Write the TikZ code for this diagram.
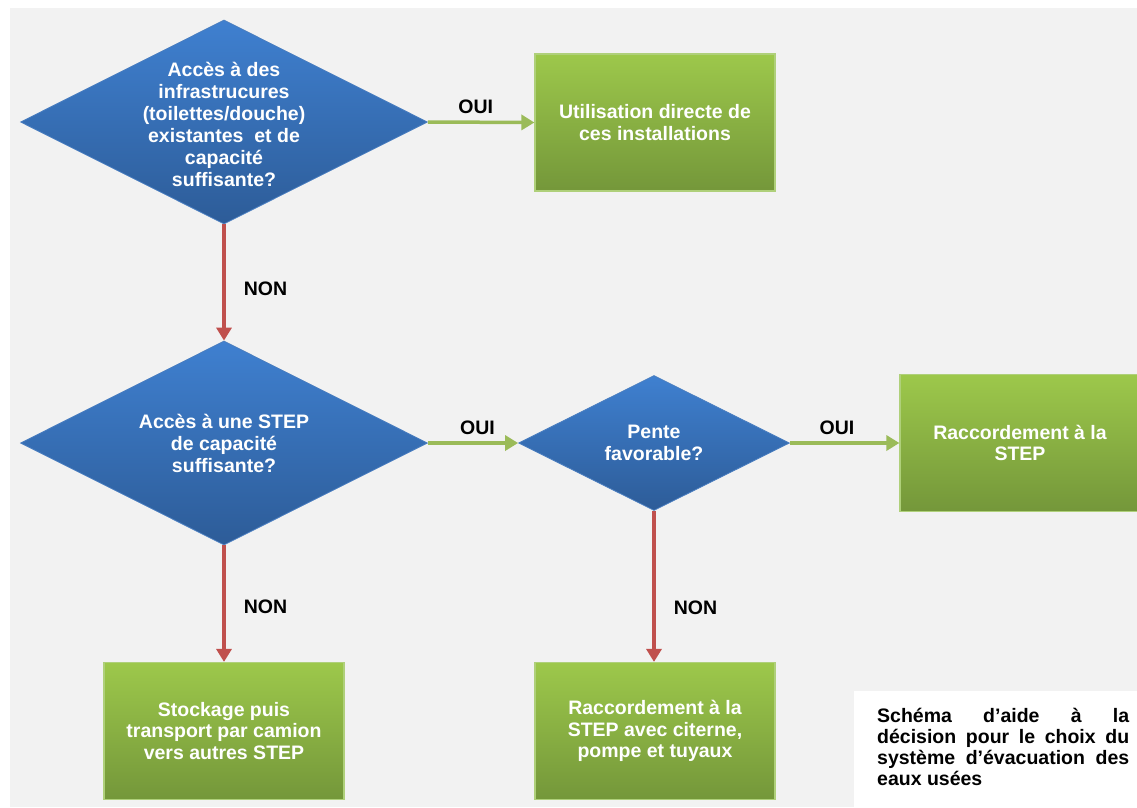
\documentclass[tikz,border=0pt]{standalone}
\usepackage{fontspec}
\setmainfont{Liberation Sans}
\usepackage{tikz}
\usetikzlibrary{calc}
\usetikzlibrary{shapes.geometric}
\usetikzlibrary{arrows.meta}

\definecolor{bgGrey}{HTML}{F2F2F2}
\definecolor{qTop}{HTML}{3F80D0}
\definecolor{qBot}{HTML}{2D5C98}
\definecolor{qEdge}{HTML}{4A7EC0}
\definecolor{aTop}{HTML}{9DC84B}
\definecolor{aBot}{HTML}{74973A}
\definecolor{aEdge}{HTML}{AFD07A}
\definecolor{ouiGreen}{HTML}{9BBB59}
\definecolor{nonRed}{HTML}{C0504D}

\begin{document}
\begin{tikzpicture}[x=1pt,y=-1pt,
        question/.style={diamond,draw=qEdge,line width=0.8pt,top color=qTop,bottom color=qBot,inner sep=0pt,minimum width=407pt,minimum height=204pt},
        qtext/.style={text=white,font=\fontsize{19.5}{22}\selectfont\bfseries,align=center,inner sep=0pt},
        action/.style={rectangle,draw=aEdge,line width=1.2pt,top color=aTop,bottom color=aBot,minimum width=240pt,minimum height=137pt,
            text=white,font=\fontsize{19.5}{21.5}\selectfont\bfseries,align=center},
        oui/.style={draw=ouiGreen,line width=3.5pt,-{Triangle[length=13pt,width=15pt]}},
        non/.style={draw=nonRed,line width=3.5pt,-{Triangle[length=13pt,width=15pt]}},
        lbl/.style={font=\fontsize{19.5}{22}\selectfont\bfseries,inner sep=0pt}]
            \useasboundingbox (0,0) rectangle (1137,807);
            \fill [bgGrey] (10,8) rectangle (1137,807);

            % questions
            \node [question,label={[qtext,yshift=-2pt]center:{Accès à des\\infrastrucures\\(toilettes/douche)\\existantes \ et de\\capacité\\suffisante?}}] (Q1) at (224,122) {};
            \node [question,label={[qtext]center:{Accès à une STEP\\de capacité\\suffisante?}}] (Q2) at (224,443) {};
            \node [question,minimum width=271pt,minimum height=135pt,label={[qtext]center:{Pente\\favorable?}}] (Q3) at (654,443) {};

            % answers
            \node [action] (A1) at (655,122.5) {Utilisation directe de\\ces installations};
            \node [action] (A2) at (1020,443) {Raccordement à la\\STEP};
            \node [action] (B1) at (224,731) {Stockage puis\\transport par camion\\vers autres STEP};
            \node [action] (B2) at (655,731) {Raccordement à la\\STEP avec citerne,\\pompe et tuyaux};

            \draw [oui] (Q1.east) -- node [lbl,pos=0.45,above=7pt] {OUI} (A1.west);
            \draw [oui] (Q2.east) -- node [lbl,pos=0.55,above=7pt] {OUI} (Q3.west);
            \draw [oui] (Q3.east) -- node [lbl,pos=0.43,above=7pt] {OUI} (A2.west);
            \draw [non] (Q1.south) -- node [lbl,pos=0.55,right=18pt] {NON} (Q2.north);
            \draw [non] (Q2.south) -- node [lbl,pos=0.53,right=18pt] {NON} (B1.north);
            \draw [non] (Q3.south) -- node [lbl,pos=0.64,right=18pt] {NON} (Q3.south |- B2.north);

            % caption
            \fill [white] (854,691) rectangle (1137,807);
            \node [lbl,anchor=north west,text width=252pt,align=justify,font=\fontsize{19.5}{21}\selectfont\bfseries] (note) at (877,708)
                {Schéma d’aide à la\linebreak décision pour le choix du\linebreak système d’évacuation des\linebreak eaux usées};
        \end{tikzpicture}
\end{document}
